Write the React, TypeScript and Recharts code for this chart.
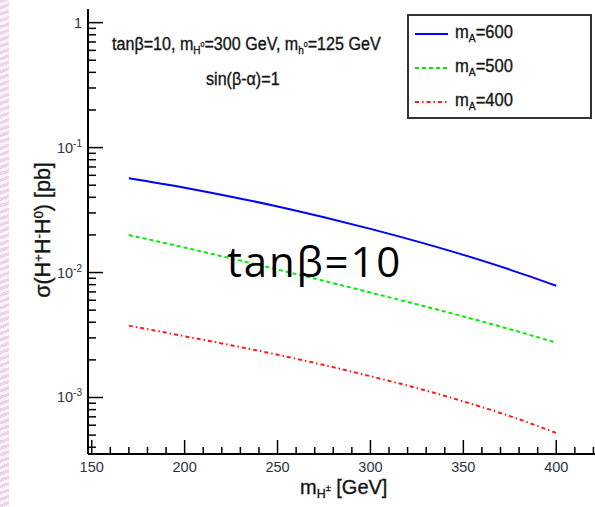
import React from "react";
import { Line, LineChart, XAxis, YAxis } from "recharts";

// charged Higgs mass [GeV]
const MASS = [170, 200, 225, 250, 275, 300, 325, 350, 375, 400];
// sigma(H+H-H0) [pb] for each m_A
const SIGMA_MA600 = [0.0569, 0.0478, 0.0405, 0.0338, 0.0277, 0.02236, 0.01776, 0.01385, 0.01056, 0.00784];
const SIGMA_MA500 = [0.01995, 0.01585, 0.01297, 0.01057, 0.00857, 0.00692, 0.00556, 0.00445, 0.00352, 0.00275];
const SIGMA_MA400 = [0.00376, 0.00309, 0.00262, 0.0022, 0.00182, 0.00148, 0.00119, 0.00093, 0.00071, 0.00052];

const X_TICKS = [150, 160, 170, 180, 190, 200, 210, 220, 230, 240, 250, 260, 270, 280, 290, 300, 310, 320, 330, 340, 350, 360, 370, 380, 390, 400, 410, 420, 430];
const Y_DECADES = [1e-4, 1e-3, 1e-2, 1e-1, 1];
const Y_MINOR_STEPS = [2, 3, 4, 5, 6, 7, 8, 9];
const Y_LABELS: Record<string, string> = { "0.001": "-3", "0.01": "-2", "0.1": "-1", "1": "" };

const X_DOMAIN: [number, number] = [148, 430];
const Y_DOMAIN: [number, number] = [3.53e-4, 1.286];

const SERIES = [
  { key: "ma600", label: "600", color: "#0000ff", dash: undefined as string | undefined },
  { key: "ma500", label: "500", color: "#00ee00", dash: "4 3" },
  { key: "ma400", label: "400", color: "#ff1a1a", dash: "4 3 1.5 3" },
];

const rows = MASS.map((m, i) => ({
  mass: m,
  ma600: SIGMA_MA600[i],
  ma500: SIGMA_MA500[i],
  ma400: SIGMA_MA400[i],
}));

const yTicks = Y_DECADES.flatMap((d) => [d, ...Y_MINOR_STEPS.map((s) => +(s * d).toPrecision(3))]).filter(
  (v) => v >= Y_DOMAIN[0] && v <= Y_DOMAIN[1]
);

const FONT = "'Liberation Sans', Arial, sans-serif";
const LABEL_COLOR = "#2c3444";
const TEXT_COLOR = "#151515";

function XTick(props: any) {
  const { x, y, payload } = props;
  const v = payload.value as number;
  const major = v % 50 === 0;
  return (
    <g>
      <line x1={x} y1={y} x2={x} y2={y - (major ? 14 : 7)} stroke="#000" strokeWidth={1.5} />
      {major && v <= 400 && (
        <text x={x} y={y + 18} textAnchor="middle" fontSize={14.5} fontFamily={FONT} fill={LABEL_COLOR}>
          {v}
        </text>
      )}
    </g>
  );
}

function YTick(props: any) {
  const { x, y, payload } = props;
  const v = payload.value as number;
  const exp = Y_LABELS[String(v)];
  const major = exp !== undefined;
  return (
    <g>
      <line x1={x} y1={y} x2={x + (major ? 15 : 8)} y2={y} stroke="#000" strokeWidth={1.5} />
      {major && (
        <text x={x - 6} y={y + 5} textAnchor="end" fontSize={14.5} fontFamily={FONT} fill={LABEL_COLOR}>
          {exp === "" ? "1" : "10"}
          {exp !== "" && (
            <tspan dy={-6} fontSize={10}>
              {exp}
            </tspan>
          )}
        </text>
      )}
    </g>
  );
}

const sub: React.CSSProperties = { fontSize: "0.62em", position: "relative", top: "0.35em" };
const sup: React.CSSProperties = { fontSize: "0.62em", position: "relative", top: "-0.55em" };
const rootText: React.CSSProperties = {
  position: "absolute",
  color: TEXT_COLOR,
  whiteSpace: "nowrap",
  WebkitTextStroke: `0.35px ${TEXT_COLOR}`,
  transformOrigin: "left top",
};

export default function App() {
  return (
    <div
      style={{
        position: "absolute",
        left: 0,
        top: 0,
        width: 595,
        height: 507,
        overflow: "hidden",
        background: "#fff",
        fontFamily: FONT,
      }}
    >
      <div
        style={{
          position: "absolute",
          left: 0,
          top: 0,
          width: 9,
          height: 507,
          background: "repeating-linear-gradient(160deg, #ecd3e6 0px, #ecd3e6 3px, #faf2f8 3px, #faf2f8 6px)",
        }}
      />
      <LineChart width={620} height={507} data={rows} margin={{ top: 9, right: 8, bottom: 0, left: 0 }}>
        <XAxis
          dataKey="mass"
          type="number"
          domain={X_DOMAIN}
          ticks={X_TICKS}
          interval={0}
          allowDataOverflow
          height={53}
          tickSize={0}
          tickMargin={0}
          tickLine={false}
          tick={<XTick />}
          axisLine={{ stroke: "#000", strokeWidth: 2 }}
        />
        <XAxis
          xAxisId="top"
          orientation="top"
          dataKey="mass"
          type="number"
          domain={X_DOMAIN}
          allowDataOverflow
          height={0}
          tick={false}
          tickLine={false}
          axisLine={{ stroke: "#000", strokeWidth: 2 }}
        />
        <YAxis
          type="number"
          scale="log"
          domain={Y_DOMAIN}
          allowDataOverflow
          ticks={yTicks}
          interval={0}
          width={88}
          tickSize={0}
          tickMargin={0}
          tickLine={false}
          tick={<YTick />}
          axisLine={{ stroke: "#000", strokeWidth: 2 }}
        />
        {SERIES.map((s) => (
          <Line
            key={s.key}
            dataKey={s.key}
            type="monotone"
            stroke={s.color}
            strokeWidth={2}
            strokeDasharray={s.dash}
            dot={false}
            activeDot={false}
            isAnimationActive={false}
          />
        ))}
      </LineChart>

      {/* annotation */}
      <div style={{ ...rootText, left: 112, top: 34, fontSize: 17.5, transform: "scaleX(0.92)" }}>
        tanβ=10, m
        <span style={sub}>
          H<span style={{ fontSize: "0.7em", position: "relative", top: "-0.9em" }}>0</span>
        </span>
        =300 GeV, m
        <span style={sub}>
          h<span style={{ fontSize: "0.7em", position: "relative", top: "-0.9em" }}>0</span>
        </span>
        =125 GeV
      </div>
      <div style={{ ...rootText, left: 206, top: 69, fontSize: 17.5, transform: "scaleX(0.92)" }}>sin(β-α)=1</div>

      {/* legend */}
      <div
        style={{
          position: "absolute",
          left: 407,
          top: 14,
          width: 181,
          height: 101,
          border: "2px solid #333",
          background: "#fff",
        }}
      >
        {SERIES.map((s, i) => (
          <div key={s.key} style={{ position: "absolute", left: 4, top: 6 + i * 34, height: 24, width: 170 }}>
            <svg width={36} height={24} style={{ position: "absolute", left: 0, top: 0 }}>
              <line x1={2} y1={12} x2={35} y2={12} stroke={s.color} strokeWidth={2} strokeDasharray={s.dash} />
            </svg>
            <span style={{ ...rootText, left: 42, top: 0, fontSize: 18, transform: "scaleX(0.92)" }}>
              m<span style={sub}>A</span>={s.label}
            </span>
          </div>
        ))}
      </div>

      {/* big overlay */}
      <div
        style={{
          position: "absolute",
          left: 227,
          top: 236,
          fontSize: 42,
          fontFamily: "'Open Sans', sans-serif",
          letterSpacing: 1.8,
          color: "#000",
          whiteSpace: "nowrap",
          lineHeight: 1.2,
        }}
      >
        tanβ=10
      </div>

      {/* axis titles */}
      <div
        style={{
          ...rootText,
          left: 44,
          top: 230,
          transformOrigin: "center",
          transform: "translate(-50%, -50%) rotate(-90deg)",
          fontSize: 21.5,
          lineHeight: "22px",
        }}
      >
        σ(H<span style={sup}>+</span>H<span style={sup}>-</span>H<span style={sup}>0</span>) [pb]
      </div>
      <div style={{ ...rootText, left: 300, top: 477, fontSize: 20, lineHeight: "20px" }}>
        m
        <span style={sub}>
          H<span style={{ fontSize: "0.75em", position: "relative", top: "-0.8em" }}>±</span>
        </span>{" "}
        [GeV]
      </div>
    </div>
  );
}
